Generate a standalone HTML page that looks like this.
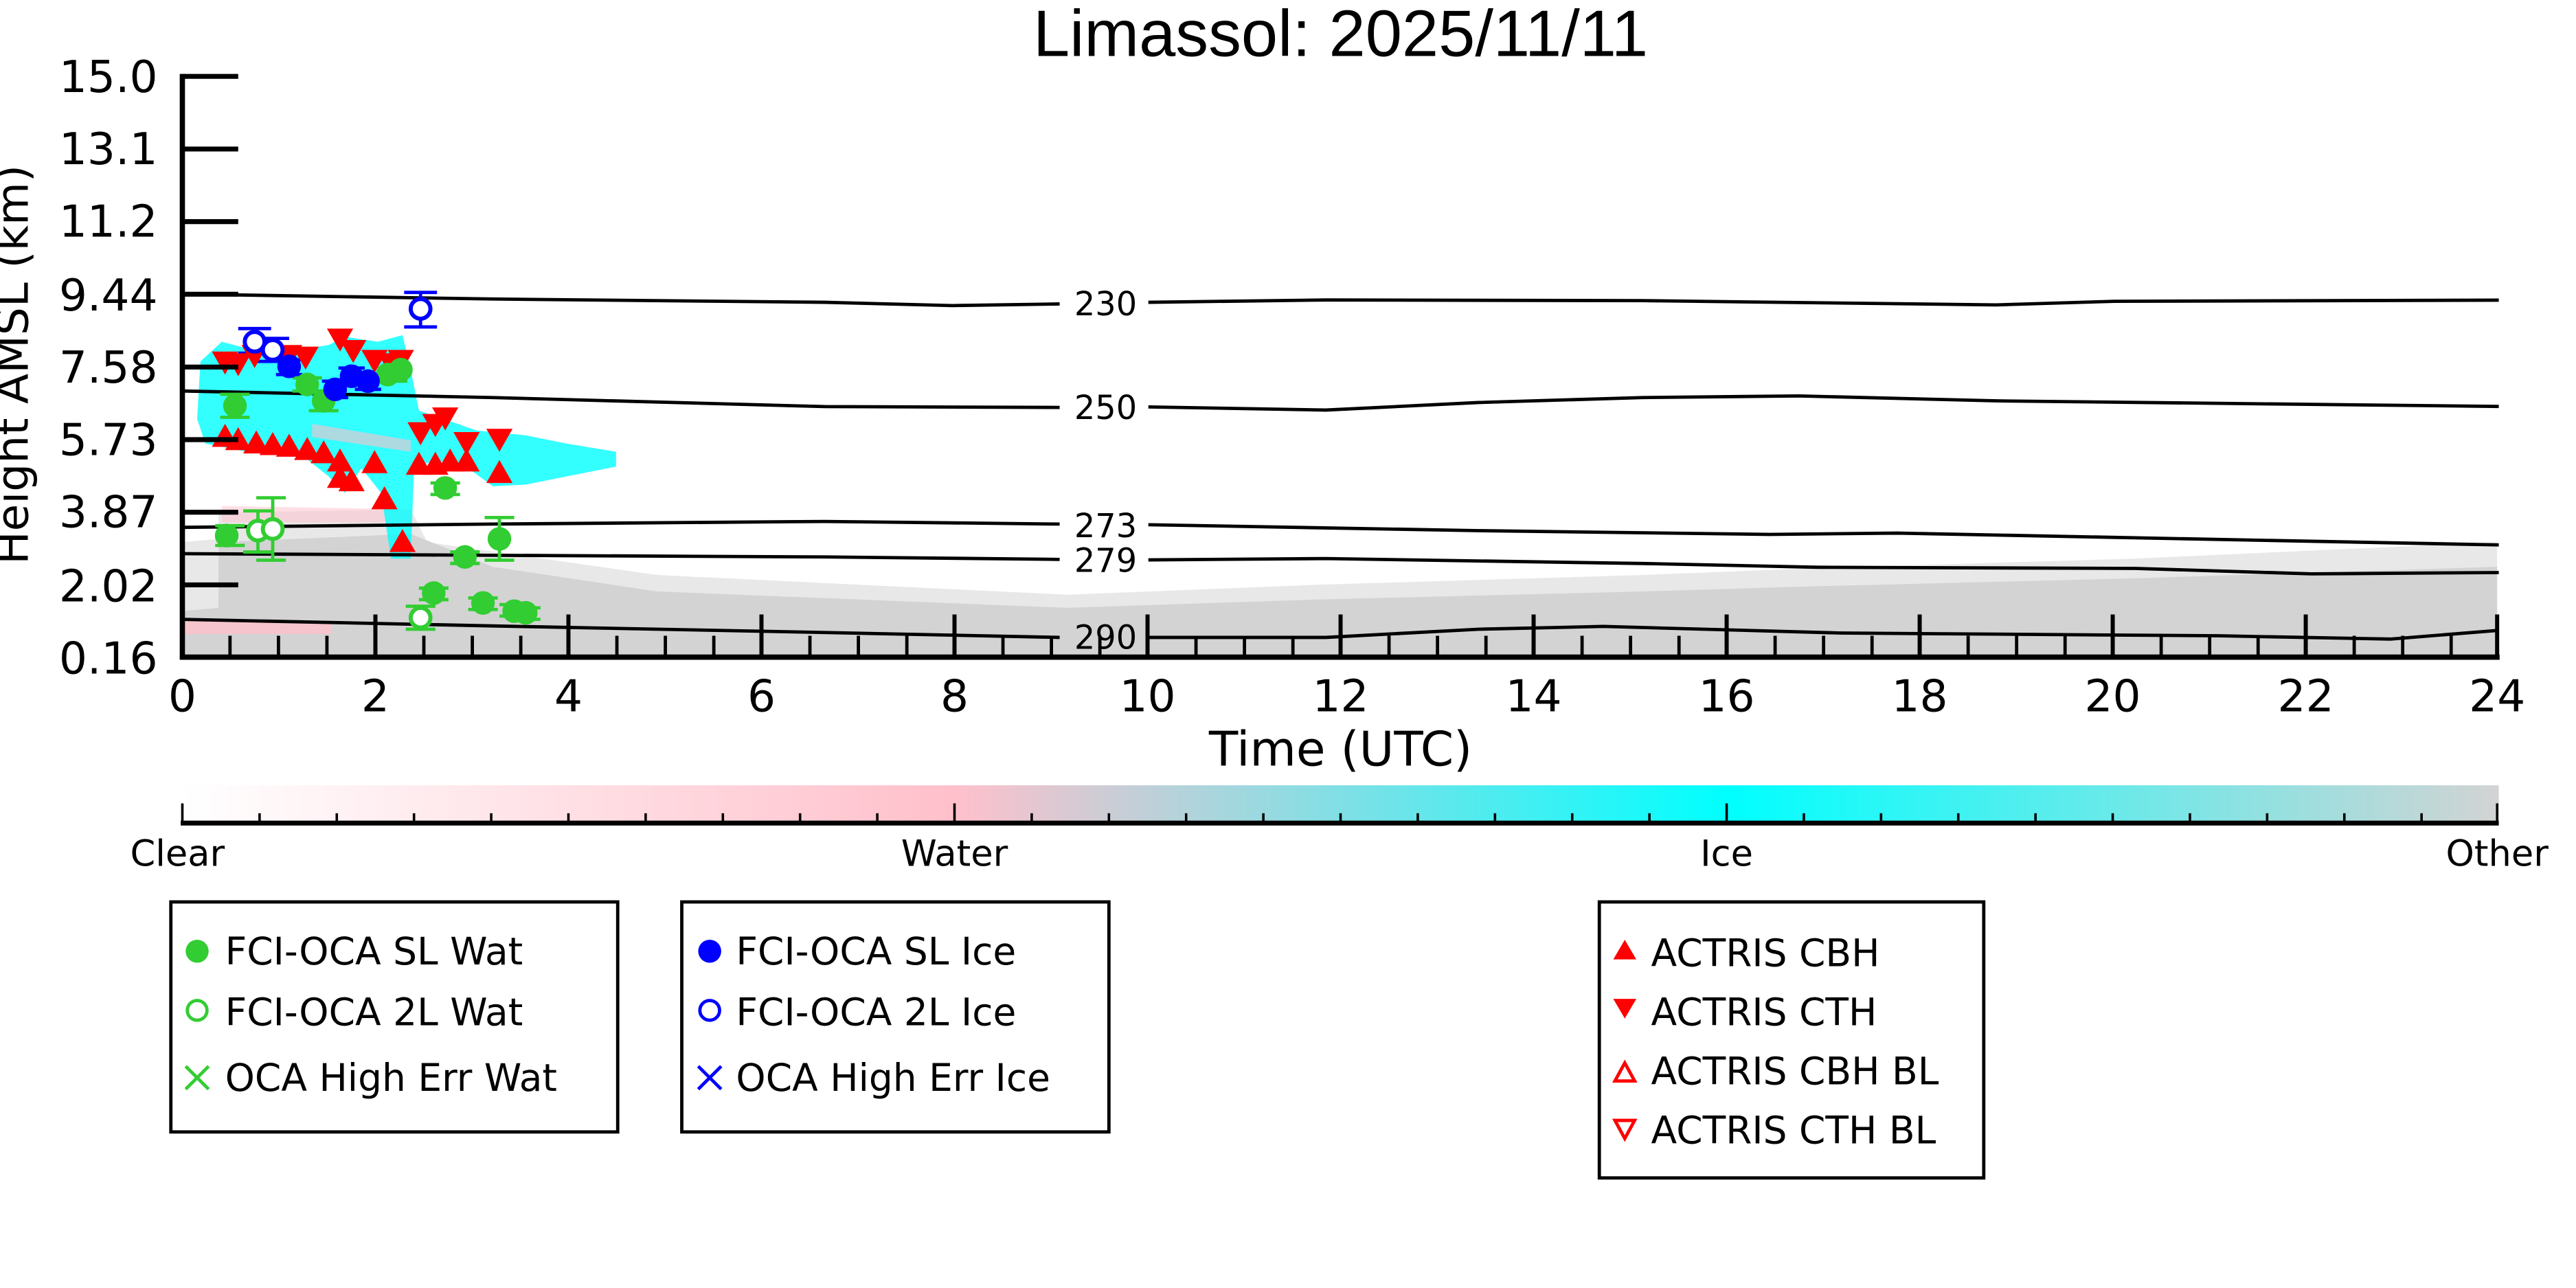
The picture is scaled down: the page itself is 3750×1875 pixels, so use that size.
<!DOCTYPE html>
<html><head><meta charset="utf-8"><style>
html,body{margin:0;padding:0;background:#fff;}
svg{display:block;}
text{font-family:"DejaVu Sans","Liberation Sans",sans-serif;}
</style></head><body>
<svg width="3750" height="1875" viewBox="0 0 1568 784" preserveAspectRatio="none" xmlns="http://www.w3.org/2000/svg">
<defs>
<linearGradient id="cb" x1="0" x2="1" y1="0" y2="0">
<stop offset="0" stop-color="#ffffff"/>
<stop offset="0.333" stop-color="#ffc0cb"/>
<stop offset="0.667" stop-color="#00ffff"/>
<stop offset="1" stop-color="#d3d3d3"/>
</linearGradient>
</defs>
<rect width="1568" height="784" fill="#fff"/>
<text x="816" y="34" font-size="40" text-anchor="middle" style="font-family:'Liberation Sans',sans-serif">Limassol: 2025/11/11</text>

<!-- grey light speckle band -->
<path d="M111,330 L133,328 L133,312 L250,310 L260,330 L400,350 L650,362 L800,356 L1000,350 L1100,346 L1300,340 L1520,330 L1520,400 L111,400Z" fill="#e8e8e8"/>
<!-- grey solid -->
<path d="M111,372 L133,370 L133,330 L250,325 L300,345 L400,360 L650,370 L800,365 L1000,360 L1100,357 L1300,352 L1520,345 L1520,400 L111,400Z" fill="#d3d3d3"/>
<!-- pink -->
<rect x="112" y="378" width="90" height="8" fill="#ffc0cb" opacity="0.8"/>
<path d="M135,308 L250,310 L250,318 L135,318Z" fill="#ffc0cb" opacity="0.5"/>
<!-- cyan -->
<path d="M122,220 L135,208 L150,212 L175,214 L200,210 L210,205 L230,208 L245,204 L250,225 L255,250 L270,255 L290,262 L320,265 L345,270 L375,275 L375,284 L345,290 L320,295 L300,296 L285,285 L265,280 L252,285 L250,340 L238,340 L232,300 L220,285 L210,300 L200,290 L185,278 L150,275 L125,270 L120,255Z" fill="#00ffff" fill-opacity="0.8"/>
<path d="M190,258 L250,268 L250,275 L190,266Z" fill="#ffc0cb" opacity="0.6"/>

<!-- contours -->
<g fill="none" stroke="#000" stroke-width="2">
<polyline points="111,179 300,182 502,184 580,186 645,185"/>
<polyline points="699,184 807,182.6 1000,183 1215,185.6 1287,183.4 1521,182.7"/>
<polyline points="111,238 300,242 502,247.5 645,248"/>
<polyline points="699,247.7 807,249.6 900,245 1000,242 1095,241 1215,244 1521,247.4"/>
<polyline points="111,321 300,319 502,317.4 645,319"/>
<polyline points="699,319.4 900,323 1077,325.3 1155,324.5 1521,331.7"/>
<polyline points="111,337 300,338 502,339 645,340.5"/>
<polyline points="699,340.8 807,340 1000,343 1107,345.3 1300,346 1407,349.3 1521,348.5"/>
<polyline points="111,377 300,381 502,385 645,388"/>
<polyline points="699,388 807,388 900,383 976,381.3 1120,385.3 1350,387 1455,389 1521,383.7"/>
</g>
<g font-size="20" text-anchor="middle">
<text x="673" y="192">230</text>
<text x="673" y="255">250</text>
<text x="673" y="327">273</text>
<text x="673" y="348">279</text>
<text x="673" y="395">290</text>
</g>

<!-- markers: error bars -->
<g stroke="#32cd32" stroke-width="2" fill="none">
<path d="M131,320h18M131,332h18 M134,240h18M134,254h18 M178,230h18M178,238h18 M188,238h18M188,250h18 M230,224h18M230,232h18 M255,358h18M255,365h18 M262,294h18M262,301h18 M274,336h18M274,343h18 M285,364h18M285,371h18 M295,315h18M295,341h18M304,315v26 M304,368h18M304,375h18 M311,370h18M311,377h18"/>
<path d="M148,311h18M148,336h18M157,311v25 M156,303h18M156,341h18M166,303v38 M247,369h18M247,383h18"/>
</g>
<g stroke="#0000ff" stroke-width="2" fill="none">
<path d="M145,200h20M145,215h20M155,200v15 M156,206h20M156,220h20 M168,219h16M168,228h16 M196,232h16M196,242h16 M206,224h16M206,233h16 M216,228h16M216,237h16 M246,178h20M246,199h20M256,178v21"/>
</g>
<!-- red triangles -->
<g fill="#ff0000">
<path id="u" d="M0,-7 L8,7 L-8,7Z" transform="translate(137,265)"/>
<use href="#u" transform="translate(8,2)"/><use href="#u" transform="translate(19,4)"/><use href="#u" transform="translate(29,5)"/><use href="#u" transform="translate(39,6)"/><use href="#u" transform="translate(50,8)"/><use href="#u" transform="translate(60,10)"/><use href="#u" transform="translate(70,15)"/><use href="#u" transform="translate(70,25)"/><use href="#u" transform="translate(77,27)"/><use href="#u" transform="translate(91,16)"/><use href="#u" transform="translate(97,38)"/><use href="#u" transform="translate(108,64)"/><use href="#u" transform="translate(118,17)"/><use href="#u" transform="translate(128,17)"/><use href="#u" transform="translate(137,15)"/><use href="#u" transform="translate(147,15)"/><use href="#u" transform="translate(167,22)"/>
<path id="d" d="M0,7 L8,-7 L-8,-7Z" transform="translate(137,221)"/>
<use href="#d" transform="translate(8,1)"/><use href="#d" transform="translate(18,-4)"/><use href="#d" transform="translate(39,-4)"/><use href="#d" transform="translate(49,-3)"/><use href="#d" transform="translate(70,-14)"/><use href="#d" transform="translate(78,-7)"/><use href="#d" transform="translate(91,-1)"/><use href="#d" transform="translate(101,1)"/><use href="#d" transform="translate(107,-1)"/><use href="#d" transform="translate(119,43)"/><use href="#d" transform="translate(128,38)"/><use href="#d" transform="translate(134,34)"/><use href="#d" transform="translate(147,49)"/><use href="#d" transform="translate(167,47)"/>
</g>
<!-- circles -->
<g fill="#32cd32">
<circle cx="138" cy="326" r="7.2"/><circle cx="143" cy="247" r="7.2"/><circle cx="187" cy="234" r="7.2"/><circle cx="197" cy="244" r="7.2"/><circle cx="236" cy="228" r="7.2"/><circle cx="244" cy="225" r="7.2"/><circle cx="264" cy="361" r="7.2"/><circle cx="271" cy="297" r="7.2"/><circle cx="283" cy="339" r="7.2"/><circle cx="294" cy="367" r="7.2"/><circle cx="304" cy="328" r="7.2"/><circle cx="313" cy="372" r="7.2"/><circle cx="320" cy="373" r="7.2"/>
</g>
<g fill="#fff" stroke="#32cd32" stroke-width="2.5">
<circle cx="157" cy="323" r="6"/><circle cx="166" cy="322" r="6"/><circle cx="256" cy="376" r="6"/>
</g>
<g fill="#0000ff">
<circle cx="176" cy="223" r="7.2"/><circle cx="204" cy="237" r="7.2"/><circle cx="214" cy="229" r="7.2"/><circle cx="224" cy="232" r="7.2"/>
</g>
<g fill="#fff" stroke="#0000ff" stroke-width="2.5">
<circle cx="155" cy="208" r="6"/><circle cx="166" cy="213" r="6"/><circle cx="256" cy="188" r="6"/>
</g>

<!-- axes -->
<g stroke="#000">
<line x1="111" y1="45" x2="111" y2="401.5" stroke-width="3.2"/>
<line x1="109.5" y1="400" x2="1521.5" y2="400" stroke-width="3.2"/>
<path stroke-width="3" d="M111,46.5h34M111,90.7h34M111,134.9h34M111,179.1h34M111,223.4h34M111,267.6h34M111,311.8h34M111,356h34"/>
<path stroke-width="2.5" d="M228.5,400v-26M346,400v-26M463.5,400v-26M581,400v-26M698.5,400v-26M816,400v-26M933.5,400v-26M1051,400v-26M1168.5,400v-26M1286,400v-26M1403.5,400v-26M1520,400v-26"/>
<path stroke-width="2" d="M140,400v-13M169.5,400v-13M199,400v-13M258,400v-13M287.5,400v-13M317,400v-13M375.5,400v-13M405,400v-13M434.5,400v-13M493,400v-13M522.5,400v-13M552,400v-13M610.5,400v-13M640,400v-13M669.5,400v-13M728,400v-13M757.5,400v-13M787,400v-13M845.5,400v-13M875,400v-13M904.5,400v-13M963,400v-13M992.5,400v-13M1022,400v-13M1080.5,400v-13M1110,400v-13M1139.5,400v-13M1198,400v-13M1227.5,400v-13M1257,400v-13M1315.5,400v-13M1345,400v-13M1374.5,400v-13M1433,400v-13M1462.5,400v-13M1492,400v-13"/>
</g>
<g font-size="27" text-anchor="end">
<text x="96" y="56">15.0</text><text x="96" y="100">13.1</text><text x="96" y="144">11.2</text><text x="96" y="189">9.44</text><text x="96" y="233">7.58</text><text x="96" y="277">5.73</text><text x="96" y="321">3.87</text><text x="96" y="366">2.02</text><text x="96" y="410">0.16</text>
</g>
<g font-size="27" text-anchor="middle">
<text x="111" y="433">0</text><text x="228.5" y="433">2</text><text x="346" y="433">4</text><text x="463.5" y="433">6</text><text x="581" y="433">8</text><text x="698.5" y="433">10</text><text x="816" y="433">12</text><text x="933.5" y="433">14</text><text x="1051" y="433">16</text><text x="1168.5" y="433">18</text><text x="1286" y="433">20</text><text x="1403.5" y="433">22</text><text x="1520" y="433">24</text>
</g>
<text x="816" y="466" font-size="29" text-anchor="middle">Time (UTC)</text>
<text transform="translate(17,222) rotate(-90)" font-size="27" text-anchor="middle">Height AMSL (km)</text>

<!-- colorbar -->
<rect x="111" y="478" width="1410" height="22" fill="url(#cb)"/>
<line x1="110" y1="501" x2="1521" y2="501" stroke="#000" stroke-width="3"/>
<g stroke="#000" stroke-width="1.5">
<path d="M111,501v-12M581,501v-12M1051,501v-12M1520,501v-12"/>
<path d="M158,501v-6M205,501v-6M252,501v-6M299,501v-6M346,501v-6M393,501v-6M440,501v-6M487,501v-6M534,501v-6M628,501v-6M675,501v-6M722,501v-6M769,501v-6M816,501v-6M863,501v-6M910,501v-6M957,501v-6M1004,501v-6M1098,501v-6M1145,501v-6M1192,501v-6M1239,501v-6M1286,501v-6M1333,501v-6M1380,501v-6M1427,501v-6M1474,501v-6"/>
</g>
<g font-size="22" text-anchor="middle">
<text x="108" y="527">Clear</text><text x="581" y="527">Water</text><text x="1051" y="527">Ice</text><text x="1520" y="527">Other</text>
</g>

<!-- legends -->
<g fill="#fff" stroke="#000" stroke-width="2">
<rect x="104" y="549" width="272" height="140"/>
<rect x="415" y="549" width="260" height="140"/>
<rect x="973.5" y="549" width="234" height="168"/>
</g>
<g font-size="23">
<circle cx="120" cy="579" r="7" fill="#32cd32"/>
<circle cx="120" cy="615" r="6" fill="#fff" stroke="#32cd32" stroke-width="2"/>
<path d="M113,649l14,14M127,649l-14,14" stroke="#32cd32" stroke-width="2"/>
<text x="137" y="587">FCI-OCA SL Wat</text>
<text x="137" y="624">FCI-OCA 2L Wat</text>
<text x="137" y="664">OCA High Err Wat</text>
<circle cx="432" cy="579" r="7" fill="#0000ff"/>
<circle cx="432" cy="615" r="6" fill="#fff" stroke="#0000ff" stroke-width="2"/>
<path d="M425,649l14,14M439,649l-14,14" stroke="#0000ff" stroke-width="2"/>
<text x="448" y="587">FCI-OCA SL Ice</text>
<text x="448" y="624">FCI-OCA 2L Ice</text>
<text x="448" y="664">OCA High Err Ice</text>
<path d="M989,572l7,12h-14z" fill="#ff0000"/>
<path d="M989,620l7,-12h-14z" fill="#ff0000"/>
<path d="M989,647l6,11h-12z" fill="#fff" stroke="#ff0000" stroke-width="2"/>
<path d="M989,693l6,-11h-12z" fill="#fff" stroke="#ff0000" stroke-width="2"/>
<text x="1005" y="588">ACTRIS CBH</text>
<text x="1005" y="624">ACTRIS CTH</text>
<text x="1005" y="660">ACTRIS CBH BL</text>
<text x="1005" y="696">ACTRIS CTH BL</text>
</g>
</svg>
</body></html>
